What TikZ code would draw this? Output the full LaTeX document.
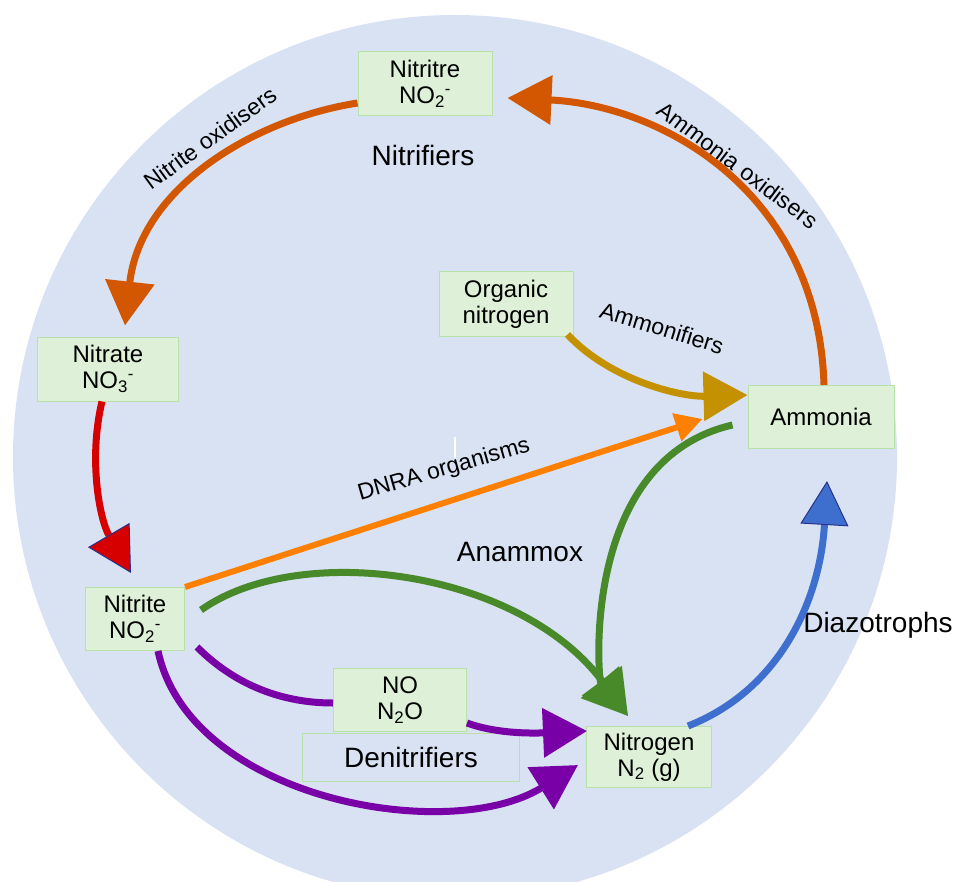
\documentclass[tikz,border=0pt]{standalone}
\usepackage{fontspec}
\setmainfont{Liberation Sans}
\usetikzlibrary{arrows.meta,calc}

\definecolor{cyclebg}{RGB}{217,226,243}
\definecolor{boxfill}{RGB}{222,241,216}
\definecolor{boxedge}{RGB}{183,225,166}
\definecolor{nitrif}{RGB}{211,86,0}
\definecolor{nitred}{RGB}{214,0,0}
\definecolor{ammon}{RGB}{196,146,0}
\definecolor{dnra}{RGB}{255,128,0}
\definecolor{anamx}{RGB}{72,137,42}
\definecolor{diazo}{RGB}{62,111,206}
\definecolor{denit}{RGB}{120,0,166}
\definecolor{tipedge}{RGB}{40,50,140}

\begin{document}
\begin{tikzpicture}[x=1pt,y=-1pt,
		species/.style={draw=boxedge,fill=boxfill,line width=1pt,align=center,inner sep=0pt,minimum height=64pt,font=\fontsize{24}{26}\selectfont},
		group/.style={font=\fontsize{28}{30}\selectfont},
		organism/.style={font=\fontsize{23}{26}\selectfont},
		flow/.style={line width=7pt,-{Triangle[length=44pt,width=48pt]}},
		edgedflow/.style={line width=7pt,-{Triangle[length=44pt,width=48pt,line width=1pt,color=tipedge,fill=#1]}}
	]
		\useasboundingbox[fill=white] (0,0) rectangle (957,882);
		\fill[cyclebg] (455,457) circle[radius=442];

		% the species
		\node[species,minimum width=134pt] (nitritre) at (425,84) {Nitritre\\NO\textsubscript{2}\textsuperscript{-}};
		\node[species,minimum width=141pt] (nitrate) at (108,369) {Nitrate\\NO\textsubscript{3}\textsuperscript{-}};
		\node[species,minimum width=99pt,minimum height=63pt] (nitrite) at (135,619) {Nitrite\\NO\textsubscript{2}\textsuperscript{-}};
		\node[species,minimum width=134pt] (orgN) at (506,304) {Organic\\nitrogen};
		\node[species,minimum width=146pt,minimum height=63pt] (ammonia) at (821,417) {Ammonia};
		\node[species,minimum width=133pt,minimum height=63pt] (nox) at (400,700) {NO\\N\textsubscript{2}O};
		\node[species,fill=none,minimum width=217pt,minimum height=48pt,font=\fontsize{28}{30}\selectfont] (denit) at (411,757) {Denitrifiers};
		\node[species,minimum width=125pt,minimum height=61pt] (nitrogen) at (649,757) {Nitrogen\\N\textsubscript{2} (g)};

		% the organisms
		\node[group] (nitrifiers) at (423,155) {Nitrifiers};
		\node[group] (anammox) at (520,552) {Anammox};
		\node[group] (diazotrophs) at (878,625) {Diazotrophs};
		\node[organism,rotate=36] (nitox) at (210,138) {Nitrite oxidisers};
		\node[organism,rotate=-37] (ammox) at (738,165) {Ammonia oxidisers};
		\node[organism,rotate=-17] (ammonifiers) at (662,328) {Ammonifiers};
		\node[organism,rotate=16] (dnraorg) at (444,470) {DNRA organisms};

		% nitrification
		\draw[flow,nitrif] ($(nitritre.west)+(0,19)$) .. controls (250,120) and (140,190) .. ($(nitrate.north)+(17,-11)$);
		\draw[flow,nitrif] ($(ammonia.north)+(3,0)$) .. controls (818,190) and (660,105) .. ($(nitritre.east)+(15,14)$);
		\draw[edgedflow=nitred,nitred] ($(nitrate.south)+(-6,0)$) .. controls (88,460) and (100,520) .. ($(nitrite.north)+(-4,-14)$);

		% ammonification, DNRA
		\draw[flow,ammon] ($(orgN.south east)+(-6,-2)$) .. controls (610,380) and (680,397) .. ($(ammonia.west)+(0,-22)$);
		\draw[dnra,line width=6pt,-{Triangle[length=27pt,width=28pt]}] (nitrite.north east) -- ($(ammonia.west)+(-45,2)$);

		% anammox
		\draw[flow,anamx] ($(ammonia.west)+(-15,8)$) .. controls (580,460) and (598,680) .. ($(nitrogen.north)+(-21,-10)$);
		\draw[flow,anamx] ($(nitrite.east)+(16,-9)$) .. controls (300,540) and (520,570) .. ($(nitrogen.north)+(-21,-10)$);

		% fixation
		\draw[edgedflow=diazo,diazo] ($(nitrogen.north east)+(-24,0)$) .. controls (780,690) and (820,600) .. ($(ammonia.south)+(6,32)$);

		% denitrification
		\draw[denit,line width=7pt] ($(nitrite.south east)+(12,-4)$) .. controls (240,690) and (290,703) .. ($(nox.west)+(0,3)$);
		\draw[flow,denit] ($(nox.east)+(0,23)$) .. controls (500,735) and (540,733) .. ($(nitrogen.west)+(1,-26)$);
		\draw[flow,denit] ($(nitrite.south)+(23,0)$) .. controls (190,800) and (450,845) .. ($(nitrogen.west)+(-8,8)$);

		\draw[white,line width=1.5pt] (455,437) -- (455,458);
	\end{tikzpicture}
\end{document}
